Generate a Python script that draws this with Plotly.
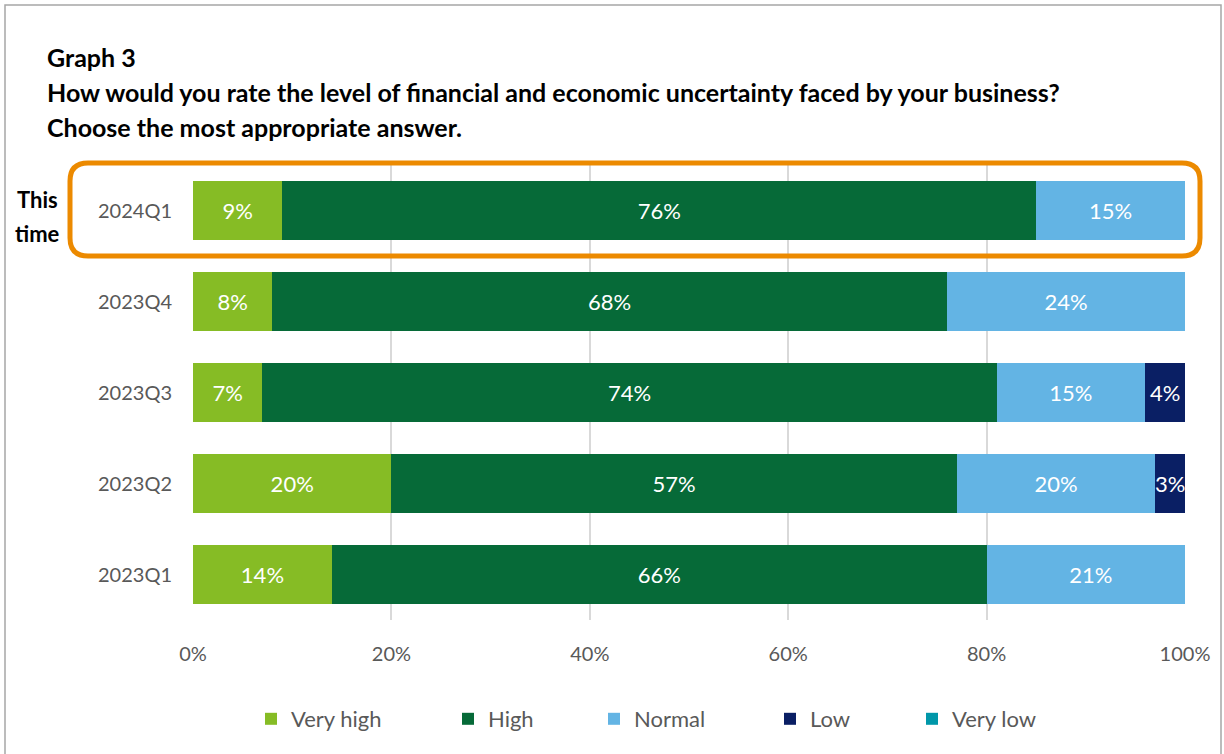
import plotly.graph_objects as go

# Survey results: share of responses per quarter (percent)
quarters = ["2023Q1", "2023Q2", "2023Q3", "2023Q4", "2024Q1"]
very_high = [14, 20, 7, 8, 9]
high = [66, 57, 74, 68, 76]
normal = [21, 20, 15, 24, 15]
low = [0, 3, 4, 0, 0]
very_low = [0, 0, 0, 0, 0]

x_ticks = [0, 20, 40, 60, 80, 100]
x_tick_labels = ["0%", "20%", "40%", "60%", "80%", "100%"]

series = [
    ("Very high", very_high, "#86BC25"),
    ("High", high, "#066A38"),
    ("Normal", normal, "#63B4E4"),
    ("Low", low, "#0A1F64"),
    ("Very low", very_low, "#0097A9"),
]

title_lines = [
    "Graph 3",
    "How would you rate the level of financial and economic uncertainty faced by your business?",
    "Choose the most appropriate answer.",
]

FONT = "Lato, Noto Sans, sans-serif"
W, H = 1224, 754
L, R, T, B = 193, 1185, 165, 620

# left edge (px) of each legend entry
legend_left = [251, 448, 594, 770, 912]


def px(x):
    return (x - L) / (R - L)


def py(y):
    return (B - y) / (B - T)


fig = go.Figure()
for i, (name, vals, color) in enumerate(series):
    fig.add_trace(go.Bar(
        name=name,
        y=quarters,
        x=vals,
        orientation="h",
        marker=dict(color=color, line=dict(width=0)),
        text=[f"{v}%" if v > 0 else "" for v in vals],
        textposition="inside",
        insidetextanchor="middle",
        textangle=0,
        textfont=dict(color="white", size=22, family=FONT),
        hoverinfo="skip",
        legend="legend" if i == 0 else f"legend{i + 1}",
    ))

shapes = []
# outer frame
shapes.append(dict(type="rect", xref="paper", yref="paper",
                   x0=px(5), x1=px(1221), y0=py(760), y1=py(5),
                   line=dict(color="#A6A6A6", width=1.5), fillcolor="rgba(0,0,0,0)",
                   layer="below"))

# rounded highlight around the latest quarter
x0, x1, y0, y1, r = 70, 1200, 163, 256, 18
pts = [
    f"M {px(x0 + r)},{py(y0)}",
    f"L {px(x1 - r)},{py(y0)}",
    f"Q {px(x1)},{py(y0)} {px(x1)},{py(y0 + r)}",
    f"L {px(x1)},{py(y1 - r)}",
    f"Q {px(x1)},{py(y1)} {px(x1 - r)},{py(y1)}",
    f"L {px(x0 + r)},{py(y1)}",
    f"Q {px(x0)},{py(y1)} {px(x0)},{py(y1 - r)}",
    f"L {px(x0)},{py(y0 + r)}",
    f"Q {px(x0)},{py(y0)} {px(x0 + r)},{py(y0)}",
    "Z",
]
shapes.append(dict(type="path", xref="paper", yref="paper", path=" ".join(pts),
                   line=dict(color="#EC8A00", width=5), fillcolor="rgba(0,0,0,0)"))

annotations = []
for txt, yy in zip(title_lines, [57, 92, 127]):
    annotations.append(dict(text=f"<b>{txt}</b>", xref="paper", yref="paper",
                            x=px(45), y=py(yy), xanchor="left", yanchor="middle",
                            showarrow=False,
                            font=dict(size=25, color="black", family=FONT)))
for txt, yy in [("This", 200), ("time", 233)]:
    annotations.append(dict(text=f"<b>{txt}</b>", xref="paper", yref="paper",
                            x=px(37), y=py(yy), xanchor="center", yanchor="middle",
                            showarrow=False,
                            font=dict(size=22, color="black", family=FONT)))

legend_style = dict(orientation="h", xanchor="left", y=py(719), yanchor="middle",
                    itemwidth=30, bgcolor="rgba(0,0,0,0)",
                    font=dict(size=22, color="#595959"))
legends = {}
for i, lx in enumerate(legend_left):
    key = "legend" if i == 0 else f"legend{i + 1}"
    legends[key] = dict(legend_style, x=px(lx))

fig.update_layout(
    width=W, height=H,
    margin=dict(l=L, r=W - R, t=T, b=H - B, autoexpand=False),
    paper_bgcolor="white", plot_bgcolor="white",
    barmode="stack", bargap=0.36,
    font=dict(family=FONT, color="#595959"),
    xaxis=dict(range=[0, 100], tickmode="array", tickvals=x_ticks, ticktext=x_tick_labels,
               showgrid=True, gridcolor="#D9D9D9", gridwidth=1.5,
               zeroline=False, showline=False, ticks="",
               tickfont=dict(size=20, color="#595959"), ticklabelstandoff=20,
               fixedrange=True),
    yaxis=dict(categoryorder="array", categoryarray=quarters,
               showgrid=False, zeroline=False, showline=False, ticks="",
               tickfont=dict(size=20, color="#595959"), ticklabelstandoff=20,
               fixedrange=True),
    uniformtext=dict(minsize=22, mode="show"),
    shapes=shapes,
    annotations=annotations,
    showlegend=True,
    **legends,
)

fig.write_html("out.html")
